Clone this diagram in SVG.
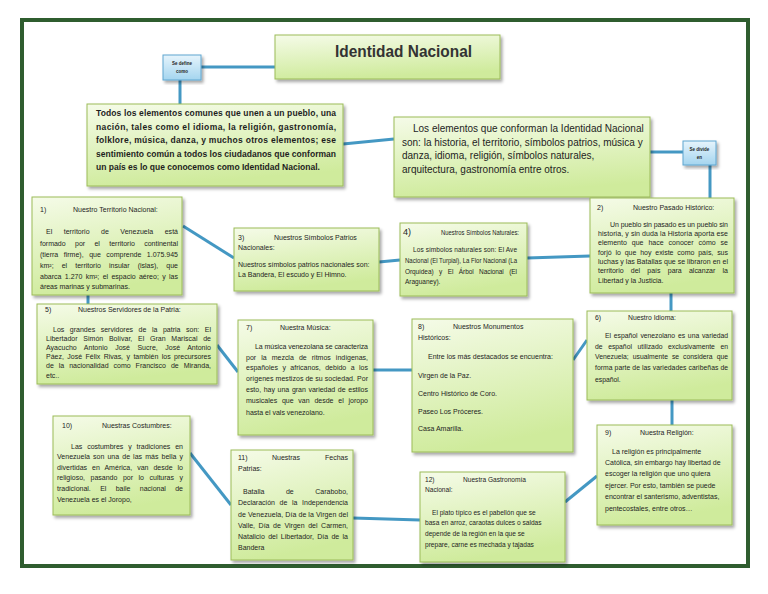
<svg xmlns="http://www.w3.org/2000/svg" width="768" height="594" viewBox="0 0 768 594">
<defs>
<linearGradient id="gGreen" x1="0" y1="0" x2="0.25" y2="1">
<stop offset="0" stop-color="#f5fbe8"/>
<stop offset="1" stop-color="#cfeb9c"/>
</linearGradient>
<linearGradient id="gBlue" x1="0" y1="0" x2="0" y2="1">
<stop offset="0" stop-color="#e6f4fc"/>
<stop offset="1" stop-color="#a4d5ef"/>
</linearGradient>
<filter id="sh" x="-10%" y="-10%" width="130%" height="130%">
<feDropShadow dx="2" dy="2.5" stdDeviation="1.5" flood-color="#000" flood-opacity="0.35"/>
</filter>
<style>
.box{fill:url(#gGreen);stroke:#9bbb59;stroke-width:1;filter:url(#sh)}
.bbox{fill:url(#gBlue);stroke:#5fa6d0;stroke-width:1;filter:url(#sh)}
text{font-family:"Liberation Sans",Arial,sans-serif;fill:#1e1e1e;font-size:7px}
.f65 text{font-size:6.5px}
.f68 text{font-size:6.8px}
.f66 text{font-size:6.6px}
.tb{font-size:8.5px;font-weight:bold}
.tm{font-size:10px}
.title{font-size:16px;font-weight:bold;fill:#333}
.lbl{font-size:4.5px;font-weight:bold;text-anchor:middle}
.c{stroke:#4498c3;stroke-width:3;fill:none}
</style>
</defs>
<rect x="22" y="20" width="726" height="546" fill="#fff" stroke="#2f5d2f" stroke-width="4"/>

<g id="connectors">
<line class="c" x1="201" y1="67" x2="275" y2="67"/>
<line class="c" x1="180" y1="80" x2="180" y2="104"/>
<line class="c" x1="343" y1="144" x2="394" y2="139"/>
<line class="c" x1="650" y1="152" x2="683" y2="152"/>
<line class="c" x1="710" y1="165" x2="710" y2="198"/>
<line class="c" x1="183" y1="226" x2="234" y2="258"/>
<line class="c" x1="88" y1="295" x2="88" y2="304"/>
<line class="c" x1="379" y1="262" x2="400" y2="260"/>
<line class="c" x1="527" y1="258" x2="590" y2="256"/>
<line class="c" x1="671" y1="293" x2="671" y2="311"/>
<line class="c" x1="587" y1="340" x2="573" y2="360"/>
<line class="c" x1="412" y1="370" x2="373" y2="370"/>
<line class="c" x1="217" y1="345" x2="238" y2="372"/>
<line class="c" x1="190" y1="453" x2="231" y2="505"/>
<line class="c" x1="353" y1="518" x2="420" y2="520"/>
<line class="c" x1="565" y1="502" x2="597" y2="476"/>
<line class="c" x1="672" y1="400" x2="672" y2="425"/>
</g>

<g id="n_title">
<rect class="box" x="275" y="35" width="225" height="44"/>
<text class="title" x="335" y="57" textLength="137" lengthAdjust="spacingAndGlyphs">Identidad Nacional</text>
</g>

<g id="n_sedefine">
<rect class="bbox" x="163" y="55" width="38" height="25"/>
<text class="lbl" x="182" y="65">Se define</text>
<text class="lbl" x="182" y="73">como</text>
</g>

<g id="n_sedivide">
<rect class="bbox" x="683" y="141" width="33" height="24"/>
<text class="lbl" x="699.5" y="151">Se divide</text>
<text class="lbl" x="699.5" y="159">en</text>
</g>

<g id="n_definicion">
<rect class="box" x="87" y="104" width="256" height="82"/>
<text class="tb" x="96" y="116" textLength="240" lengthAdjust="spacing">Todos los elementos comunes que unen a un pueblo, una</text>
<text class="tb" x="96" y="130" textLength="240" lengthAdjust="spacing">nación, tales como el idioma, la religión, gastronomía,</text>
<text class="tb" x="96" y="143" textLength="240" lengthAdjust="spacing">folklore, música, danza, y muchos otros elementos; ese</text>
<text class="tb" x="96" y="157" textLength="240" lengthAdjust="spacing">sentimiento común a todos los ciudadanos que conforman</text>
<text class="tb" x="96" y="170">un país es lo que conocemos como Identidad Nacional.</text>
</g>

<g id="n_elementos">
<rect class="box" x="394" y="117" width="256" height="80"/>
<text class="tm" x="413" y="132">Los elementos que conforman la Identidad Nacional</text>
<text class="tm" x="402" y="146">son: la historia, el territorio, símbolos patrios, música y</text>
<text class="tm" x="402" y="159">danza, idioma, religión, símbolos naturales,</text>
<text class="tm" x="402" y="173">arquitectura, gastronomía entre otros.</text>
</g>

<g id="n1">
<rect class="box" x="32" y="197" width="150" height="98"/>
<text x="40" y="212">1)</text>
<text x="73" y="212">Nuestro Territorio Nacional:</text>
<text x="46" y="234" style="word-spacing:9.5px" textLength="132" lengthAdjust="spacing">El territorio de Venezuela está</text>
<text x="40" y="246" style="word-spacing:7.4px" textLength="138" lengthAdjust="spacing">formado por el territorio continental</text>
<text x="40" y="257" style="word-spacing:3.6px" textLength="138" lengthAdjust="spacing">(tierra firme), que comprende 1.075.945</text>
<text x="40" y="268" style="word-spacing:6.2px" textLength="138" lengthAdjust="spacing">km²; el territorio insular (islas), que</text>
<text x="40" y="279" style="word-spacing:1.4px" textLength="138" lengthAdjust="spacing">abarca 1.270 km²; el espacio aéreo; y las</text>
<text x="40" y="289">áreas marinas y submarinas.</text>
</g>

<g id="n3">
<rect class="box" x="234" y="228" width="145" height="63"/>
<text x="238" y="240">3)</text>
<text x="274" y="240">Nuestros Símbolos Patrios</text>
<text x="238" y="250">Nacionales:</text>
<text x="238" y="267">Nuestros símbolos patrios nacionales son:</text>
<text x="238" y="277">La Bandera, El escudo y El Himno.</text>
</g>

<g id="n4" class="f65">
<rect class="box" x="400" y="223" width="127" height="73"/>
<text x="403" y="235" style="font-size:9px">4)</text>
<text x="441" y="235" textLength="78" lengthAdjust="spacingAndGlyphs">Nuestros Símbolos Naturales:</text>
<text x="413" y="252" textLength="104" lengthAdjust="spacing">Los símbolos naturales son: El Ave</text>
<text x="405" y="263" textLength="112" lengthAdjust="spacingAndGlyphs">Nacional (El Turpial), La Flor Nacional (La</text>
<text x="405" y="274" style="word-spacing:3.8px" textLength="112" lengthAdjust="spacing">Orquídea) y El Árbol Nacional (El</text>
<text x="405" y="284">Araguaney).</text>
</g>

<g id="n2">
<rect class="box" x="590" y="198" width="144" height="95"/>
<text x="597" y="210">2)</text>
<text x="633" y="210">Nuestro Pasado Histórico:</text>
<text x="610" y="227" textLength="118" lengthAdjust="spacing">Un pueblo sin pasado es un pueblo sin</text>
<text x="598" y="236" textLength="130" lengthAdjust="spacing">historia, y sin duda la Historia aporta ese</text>
<text x="598" y="245" style="word-spacing:3px" textLength="130" lengthAdjust="spacing">elemento que hace conocer cómo se</text>
<text x="598" y="255" style="word-spacing:1.9px" textLength="130" lengthAdjust="spacing">forjó lo que hoy existe como país, sus</text>
<text x="598" y="264" textLength="130" lengthAdjust="spacing">luchas y las Batallas que se libraron en el</text>
<text x="598" y="273" style="word-spacing:5.3px" textLength="130" lengthAdjust="spacing">territorio del país para alcanzar la</text>
<text x="598" y="283">Libertad y la Justicia.</text>
</g>

<g id="n5">
<rect class="box" x="37" y="304" width="180" height="80"/>
<text x="45" y="312">5)</text>
<text x="78" y="312">Nuestros Servidores de la Patria:</text>
<text x="53" y="332" style="word-spacing:3.6px" textLength="158" lengthAdjust="spacing">Los grandes servidores de la patria son: El</text>
<text x="46" y="341" style="word-spacing:3.8px" textLength="165" lengthAdjust="spacing">Libertador Simón Bolívar, El Gran Mariscal de</text>
<text x="46" y="350" style="word-spacing:5.5px" textLength="165" lengthAdjust="spacing">Ayacucho Antonio José Sucre, José Antonio</text>
<text x="46" y="359" style="word-spacing:1.5px" textLength="165" lengthAdjust="spacing">Páez, José Félix Rivas, y también los precursores</text>
<text x="46" y="368" style="word-spacing:3px" textLength="165" lengthAdjust="spacing">de la nacionalidad como Francisco de Miranda,</text>
<text x="46" y="378">etc..</text>
</g>

<g id="n7">
<rect class="box" x="238" y="320" width="135" height="115"/>
<text x="246" y="330">7)</text>
<text x="280" y="330">Nuestra Música:</text>
<text x="255" y="349" textLength="113" lengthAdjust="spacing">La música venezolana se caracteriza</text>
<text x="246" y="360" style="word-spacing:3.2px" textLength="122" lengthAdjust="spacing">por la mezcla de ritmos indígenas,</text>
<text x="246" y="370" style="word-spacing:2.5px" textLength="122" lengthAdjust="spacing">españoles y africanos, debido a los</text>
<text x="246" y="381" textLength="122" lengthAdjust="spacing">orígenes mestizos de su sociedad. Por</text>
<text x="246" y="392" style="word-spacing:0.7px" textLength="122" lengthAdjust="spacing">esto, hay una gran variedad de estilos</text>
<text x="246" y="403" style="word-spacing:2.8px" textLength="122" lengthAdjust="spacing">musicales que van desde el joropo</text>
<text x="246" y="415">hasta el vals venezolano.</text>
</g>

<g id="n8">
<rect class="box" x="412" y="319" width="161" height="133"/>
<text x="418" y="329">8)</text>
<text x="453" y="329">Nuestros Monumentos</text>
<text x="418" y="340">Históricos:</text>
<text x="428" y="359">Entre los más destacados se encuentra:</text>
<text x="418" y="378">Virgen de la Paz.</text>
<text x="418" y="396">Centro Histórico de Coro.</text>
<text x="418" y="414">Paseo Los Próceres.</text>
<text x="418" y="431">Casa Amarilla.</text>
</g>

<g id="n6" class="f68">
<rect class="box" x="587" y="311" width="145" height="89"/>
<text x="595" y="320">6)</text>
<text x="628" y="320">Nuestro Idioma:</text>
<text x="605" y="338" style="word-spacing:0.9px" textLength="123" lengthAdjust="spacing">El español venezolano es una variedad</text>
<text x="595" y="349" style="word-spacing:3.7px" textLength="133" lengthAdjust="spacing">de español utilizado exclusivamente en</text>
<text x="595" y="359" style="word-spacing:2.1px" textLength="133" lengthAdjust="spacing">Venezuela; usualmente se considera que</text>
<text x="595" y="370" textLength="133" lengthAdjust="spacing">forma parte de las variedades caribeñas de</text>
<text x="595" y="382">español.</text>
</g>

<g id="n9">
<rect class="box" x="597" y="425" width="135" height="100"/>
<text x="605" y="435">9)</text>
<text x="640" y="435">Nuestra Religión:</text>
<text x="612" y="454">La religión es principalmente</text>
<text x="605" y="465">Católica, sin embargo hay libertad de</text>
<text x="605" y="476">escoger la religión que uno quiera</text>
<text x="605" y="488">ejercer. Por esto, también se puede</text>
<text x="605" y="499">encontrar el santerismo, adventistas,</text>
<text x="605" y="511">pentecostales, entre otros…</text>
</g>

<g id="n10">
<rect class="box" x="53" y="416" width="137" height="99"/>
<text x="62" y="428">10)</text>
<text x="102" y="428">Nuestras Costumbres:</text>
<text x="71" y="449" style="word-spacing:2.9px" textLength="112" lengthAdjust="spacing">Las costumbres y tradiciones en</text>
<text x="57" y="459" style="word-spacing:1.1px" textLength="126" lengthAdjust="spacing">Venezuela son una de las más bella y</text>
<text x="57" y="470" style="word-spacing:3px" textLength="126" lengthAdjust="spacing">divertidas en América, van desde lo</text>
<text x="57" y="480" style="word-spacing:3.6px" textLength="126" lengthAdjust="spacing">religioso, pasando por lo culturas y</text>
<text x="57" y="491" style="word-spacing:7.4px" textLength="126" lengthAdjust="spacing">tradicional. El baile nacional de</text>
<text x="57" y="502">Venezuela es el Joropo,</text>
</g>

<g id="n11">
<rect class="box" x="231" y="450" width="122" height="110"/>
<text x="238" y="460">11)</text>
<text x="272" y="460">Nuestras</text>
<text x="348" y="460" text-anchor="end">Fechas</text>
<text x="238" y="471">Patrias:</text>
<text x="243" y="494" style="word-spacing:19.6px" textLength="105" lengthAdjust="spacing">Batalla de Carabobo,</text>
<text x="238" y="505" style="word-spacing:2.7px" textLength="110" lengthAdjust="spacing">Declaración de la Independencia</text>
<text x="238" y="517" textLength="110" lengthAdjust="spacing">de Venezuela, Día de la Virgen del</text>
<text x="238" y="528" style="word-spacing:1.6px" textLength="110" lengthAdjust="spacing">Valle, Día de Virgen del Carmen,</text>
<text x="238" y="539" style="word-spacing:1.4px" textLength="110" lengthAdjust="spacing">Natalicio del Libertador, Día de la</text>
<text x="238" y="550">Bandera</text>
</g>

<g id="n12" class="f66">
<rect class="box" x="420" y="472" width="145" height="90"/>
<text x="425" y="482">12)</text>
<text x="463" y="482">Nuestra Gastronomía</text>
<text x="425" y="492">Nacional:</text>
<text x="432" y="515">El plato típico es el pabellón que se</text>
<text x="425" y="525">basa en arroz, caraotas dulces o saldas</text>
<text x="425" y="536">depende de la región en la que se</text>
<text x="425" y="547">prepare, carne es mechada y tajadas</text>
</g>
</svg>
